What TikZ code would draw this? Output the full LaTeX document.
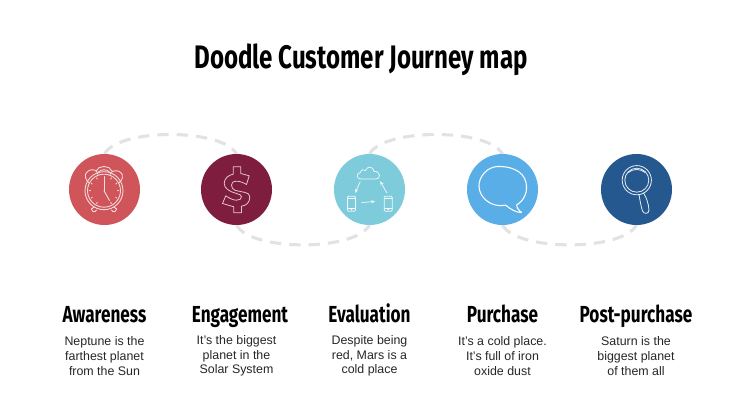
\documentclass[tikz,border=0pt]{standalone}
\usepackage{fontspec}
\setmainfont{Liberation Sans}
\newfontfamily\headfont[FakeStretch=0.74]{Fira Sans}
\usetikzlibrary{arrows.meta}
\definecolor{cA}{HTML}{CF555B}
\definecolor{cB}{HTML}{7F1D3E}
\definecolor{cC}{HTML}{7ECBDB}
\definecolor{cD}{HTML}{5AAEE8}
\definecolor{cE}{HTML}{24588F}
\definecolor{dashc}{HTML}{E2E2E2}
\tikzset{
  x=0.75pt,y=-0.75pt,
  stage/.style={circle,minimum size=53.25pt,inner sep=0pt,outer sep=0pt},
  trail/.style={draw=dashc,line width=2.3pt,dash pattern=on 8.5pt off 6pt},
  head/.style={font=\headfont\bfseries\fontsize{17.4}{20}\selectfont,text=black,inner sep=0pt,anchor=base},
  body/.style={font=\fontsize{9.3}{11.05}\selectfont,align=center,text=black!85,inner sep=0pt},
  inkc/.style={draw=white!80!cA,line width=0.65pt,line join=round,line cap=round},
}
\begin{document}
\begin{tikzpicture}
\useasboundingbox (0,0) rectangle (740,416);
\fill[white] (0,0) rectangle (740,416);
\node[font=\headfont\bfseries\fontsize{24.4}{28}\selectfont,inner sep=0pt,anchor=base] (title) at (361,68.5) {Doodle Customer Journey map};

\node[stage] (c1) at (104.5,189.5) {};
\node[stage] (c2) at (236.5,189.5) {};
\node[stage] (c3) at (369.5,189.5) {};
\node[stage] (c4) at (502.5,189.5) {};
\node[stage] (c5) at (636.5,189.5) {};

\draw[trail] (c1.90) .. controls +(14,-26) and +(-14,-26) .. (c2.90);
\draw[trail] (c2.-90) .. controls +(14,26.5) and +(-14,26.5) .. (c3.-90);
\draw[trail] (c3.90) .. controls +(14,-26) and +(-14,-26) .. (c4.90);
\draw[trail] (c4.-90) .. controls +(14,26.5) and +(-14,26.5) .. (c5.-90);

\fill[cA] (c1) circle (35.5);
\fill[cB] (c2) circle (35.5);
\fill[cC] (c3) circle (35.5);
\fill[cD] (c4) circle (35.5);
\fill[cE] (c5) circle (35.5);

% clock
\begin{scope}[shift={(c1.center)},inkc]
  \draw (-0.5,1.2) circle (19);
  \draw (-0.5,1.2) circle (16.5);
  \draw (-16,-7) .. controls (-22,-13) and (-19,-21) .. (-10,-19.5) .. controls (-8,-19) and (-7,-17) .. (-6.5,-15);
  \draw (15,-7) .. controls (21,-13) and (18,-20) .. (9,-18.5) .. controls (7,-18) and (6,-16.5) .. (5.5,-15);
  \draw (-8.5,-18.5) .. controls (-6,-24.5) and (5,-24.5) .. (7.5,-18.5);
  \draw (-6,-17.3) .. controls (-4,-20.5) and (3,-20.5) .. (5,-17.3);
  \draw (-0.5,1.2) -- (-0.5,-13);
  \draw (-0.5,1.2) -- (5,11);
  \draw (-13,19.5) .. controls (-12.5,23) and (-9,23) .. (-8,20.5);
  \draw (-13,19.5) -- (-10.5,17.5);
  \draw (12,19.5) .. controls (11.5,23) and (8,23) .. (7,20.5);
  \draw (12,19.5) -- (9.5,17.5);
  \foreach \a in {0,30,60,120,150,180,210,240,300,330}
    \draw ({-0.5+13.5*cos(\a)},{1.2+13.5*sin(\a)}) -- ({-0.5+14.8*cos(\a)},{1.2+14.8*sin(\a)});
\end{scope}

% dollar
\begin{scope}[shift={(c2.center)}]
  \draw[draw=white!75!cB,line width=0.6pt,line join=round]
    (-3.3,-22.7) -- (4.3,-22.7) -- (4.3,-16) -- (12.7,-13.7) -- (10,-5)
    .. controls (7,-7) and (3,-8.3) .. (0,-8.3)
    .. controls (-4,-8.3) and (-5,-6) .. (-5,-4.3)
    .. controls (-5,-2) and (-3.5,0) .. (-1.7,0.7)
    .. controls (5,3) and (13.3,2) .. (13.3,7.3)
    .. controls (13.3,13) and (10,16) .. (5,16.7)
    -- (5,23.3) -- (-2.7,23.3) -- (-2.7,17.3) -- (-14,14) -- (-10.7,6.3)
    .. controls (-7,9) and (-3,10.7) .. (0,10.7)
    .. controls (3,10.7) and (5,9.5) .. (5,7.3)
    .. controls (5,5.5) and (3,4.8) .. (0,4)
    .. controls (-7,2) and (-12.3,-1) .. (-12.3,-6)
    .. controls (-12.3,-11) and (-8,-14.5) .. (-3.3,-15.3)
    -- cycle;
\end{scope}

% cloud and phones
\begin{scope}[shift={(c3.center)},draw=white!90!cC,line width=0.55pt,line join=round,line cap=round]
  \draw (-8.5,-10.5) .. controls (-13.5,-10.5) and (-13.5,-16.5) .. (-9,-17)
        .. controls (-9,-20) and (-5.5,-20.5) .. (-4,-19)
        .. controls (-2.5,-24) and (4.5,-23) .. (4.5,-18)
        .. controls (7.5,-19) and (10,-16) .. (10,-14)
        .. controls (10,-11.5) and (8.5,-10.5) .. (6.5,-10.5) -- cycle;
  \draw[-{Stealth[length=3pt,width=2.4pt]}] (-9.3,-7.7) -- (-14.3,3.3);
  \draw[-{Stealth[length=3pt,width=2.4pt]}] (17.3,3.3) -- (10.7,-8.3);
  \draw[-{Stealth[length=3pt,width=2.4pt]}] (-7.7,13) -- (5.7,12);
  \foreach \x in {-22,14.7}{
    \draw[rounded corners=0.8pt] (\x,6.7) rectangle ++(8,15);
    \draw (\x,9) -- ++(8,0) (\x,18.5) -- ++(8,0);
    \draw (\x+4,20.2) circle (0.5);
  }
\end{scope}

% speech bubble
\begin{scope}[shift={(c4.center)},draw=white,line width=0.8pt,line join=round,line cap=round]
  \draw (14,15.5)
    .. controls (22,11) and (25.5,2) .. (23.5,-7)
    .. controls (21,-19) and (7,-23.5) .. (-5,-23)
    .. controls (-16,-22.5) and (-24,-12) .. (-23.5,-3)
    .. controls (-23,8) and (-12,17.5) .. (1,16)
    .. controls (2,16) and (3,15.5) .. (3,15.5)
    .. controls (8,20) and (14,23) .. (19,23)
    .. controls (16,20) and (13.5,18) .. (14,15.5);
\end{scope}

% magnifier
\begin{scope}[shift={(c5.center)},draw=white!90!cE,line width=0.6pt,line join=round,line cap=round]
  \draw (0.3,-9.3) circle (14.6);
  \draw (0.3,-9.3) circle (12);
  \draw (-8,-17) .. controls (-4,-21) and (4,-21) .. (8.5,-17);
  \draw (2.5,5) .. controls (3.5,11) and (4.5,17) .. (6,21.5)
     .. controls (7.5,25) and (12.5,24.5) .. (12.5,20.5)
     .. controls (12,14) and (10,8) .. (7,3.5);
\end{scope}

\node[head] (h1) at (104.5,323) {Awareness};
\node[head] (h2) at (240,323) {Engagement};
\node[head] (h3) at (369.5,323) {Evaluation};
\node[head] (h4) at (502.5,323) {Purchase};
\node[head] (h5) at (636,323) {Post-purchase};

\node[body] (b1) at (104.5,356) {Neptune is the\\farthest planet\\from the Sun};
\node[body] (b2) at (236.5,356) {It’s the biggest\\planet in the\\Solar System};
\node[body] (b3) at (369.5,356) {Despite being\\red, Mars is a\\cold place};
\node[body] (b4) at (502.5,356) {It’s a cold place.\\It’s full of iron\\oxide dust};
\node[body] (b5) at (636,356) {Saturn is the\\biggest planet\\of them all};
\end{tikzpicture}
\end{document}
